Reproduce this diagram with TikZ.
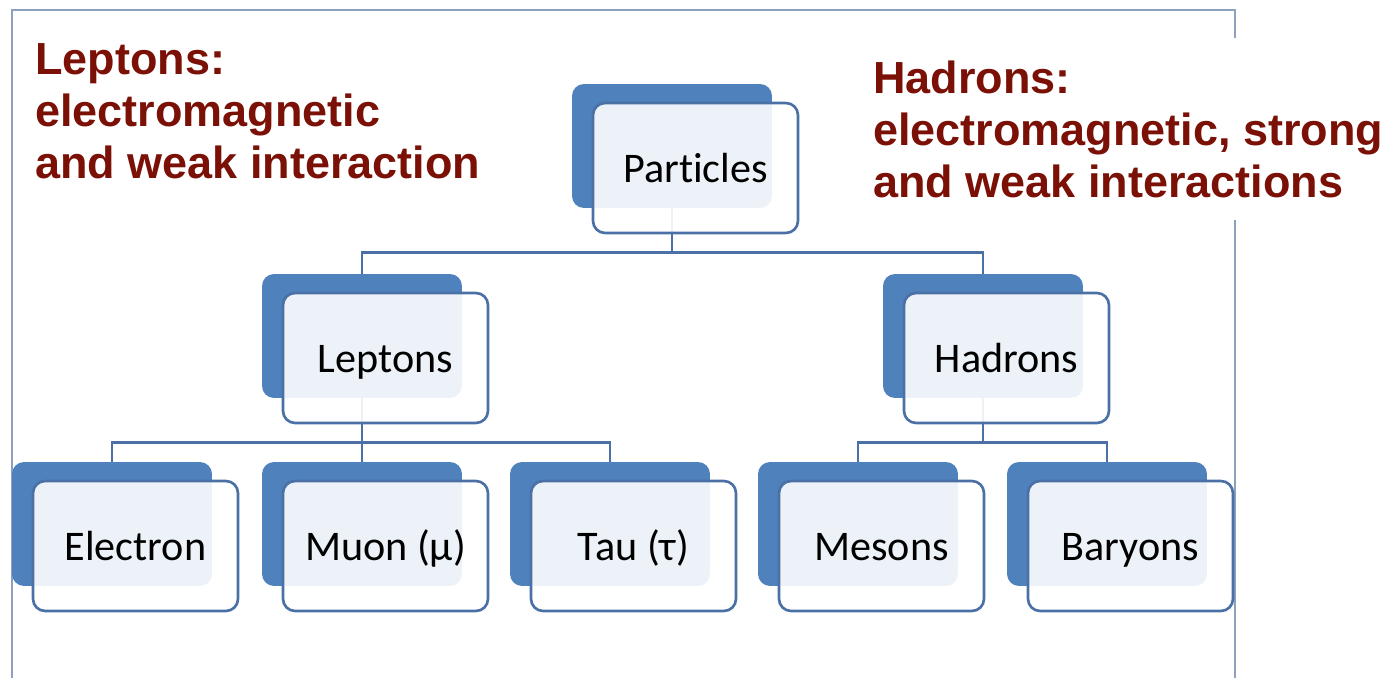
\documentclass[tikz,border=0pt]{standalone}
\usepackage{fontspec}
\setmainfont{Carlito}[RawFeature={-liga;-clig;-calt;-dlig}]
\newfontfamily\headfont{Liberation Sans}
\definecolor{BackClr}{RGB}{79,129,189}
\definecolor{EdgeClr}{RGB}{74,112,166}
\definecolor{FrameClr}{RGB}{140,160,192}
\definecolor{HeadClr}{RGB}{122,16,6}

\begin{document}
\begin{tikzpicture}[x=0.02cm,y=-0.02cm,
  backbox/.style={fill=BackClr,rounded corners=0.24cm,minimum width=4cm,minimum height=2.48cm,inner sep=0pt},
  frontbox/.style={draw=EdgeClr,line width=1.5pt,fill=white,fill opacity=0.9,text opacity=1,rounded corners=0.24cm,
    minimum width=4.1cm,minimum height=2.6cm,inner sep=0pt,xshift=0.47cm,yshift=-0.44cm,
    text height=21pt,text depth=5pt,font=\fontsize{24}{28}\selectfont},
  link/.style={draw=EdgeClr,line width=1.5pt},
  heading/.style={anchor=north west,inner sep=0pt,align=left,text=HeadClr,font=\headfont\bfseries\fontsize{25.6}{29.6}\selectfont}]
\useasboundingbox (0,0) rectangle (1389,678);

% frame, broken where the hadron text sits
\draw[FrameClr,line width=1.1pt] (1235,38) -- (1235,10) -- (12,10) -- (12,690);
\draw[FrameClr,line width=1.1pt] (1235,220) -- (1235,690);

\node[heading] (leptxt) at (35,43) {Leptons:\\electromagnetic\\and weak interaction};
\node[heading] (hadtxt) at (873,61) {Hadrons:\\electromagnetic, strong\\and weak interactions};

% back boxes
\node[backbox] (part) at (672,146) {};
\node[backbox] (lep) at (362,336) {};
\node[backbox] (had) at (983,336) {};
\node[backbox] (ele) at (112,524) {};
\node[backbox] (muo) at (362,524) {};
\node[backbox] (tau) at (610,524) {};
\node[backbox] (mes) at (858,524) {};
\node[backbox] (bar) at (1107,524) {};

% tree lines
\draw[link] (part.south) -- ++(0,44) -| (lep.north);
\draw[link] (part.south) -- ++(0,44) -| (had.north);
\foreach \kid in {ele,muo,tau}
  \draw[link] (lep.south) -- ++(0,44) -| (\kid.north);
\foreach \kid in {mes,bar}
  \draw[link] (had.south) -- ++(0,44) -| (\kid.north);

% front boxes with the labels
\node[frontbox] (partf) at (part) {Particles};
\node[frontbox] (lepf) at (lep) {Leptons};
\node[frontbox] (hadf) at (had) {Hadrons};
\node[frontbox] (elef) at (ele) {Electron};
\node[frontbox] (muof) at (muo) {Muon (μ)};
\node[frontbox] (tauf) at (tau) {Tau (τ)};
\node[frontbox] (mesf) at (mes) {Mesons};
\node[frontbox] (barf) at (bar) {Baryons};

\end{tikzpicture}
\end{document}
